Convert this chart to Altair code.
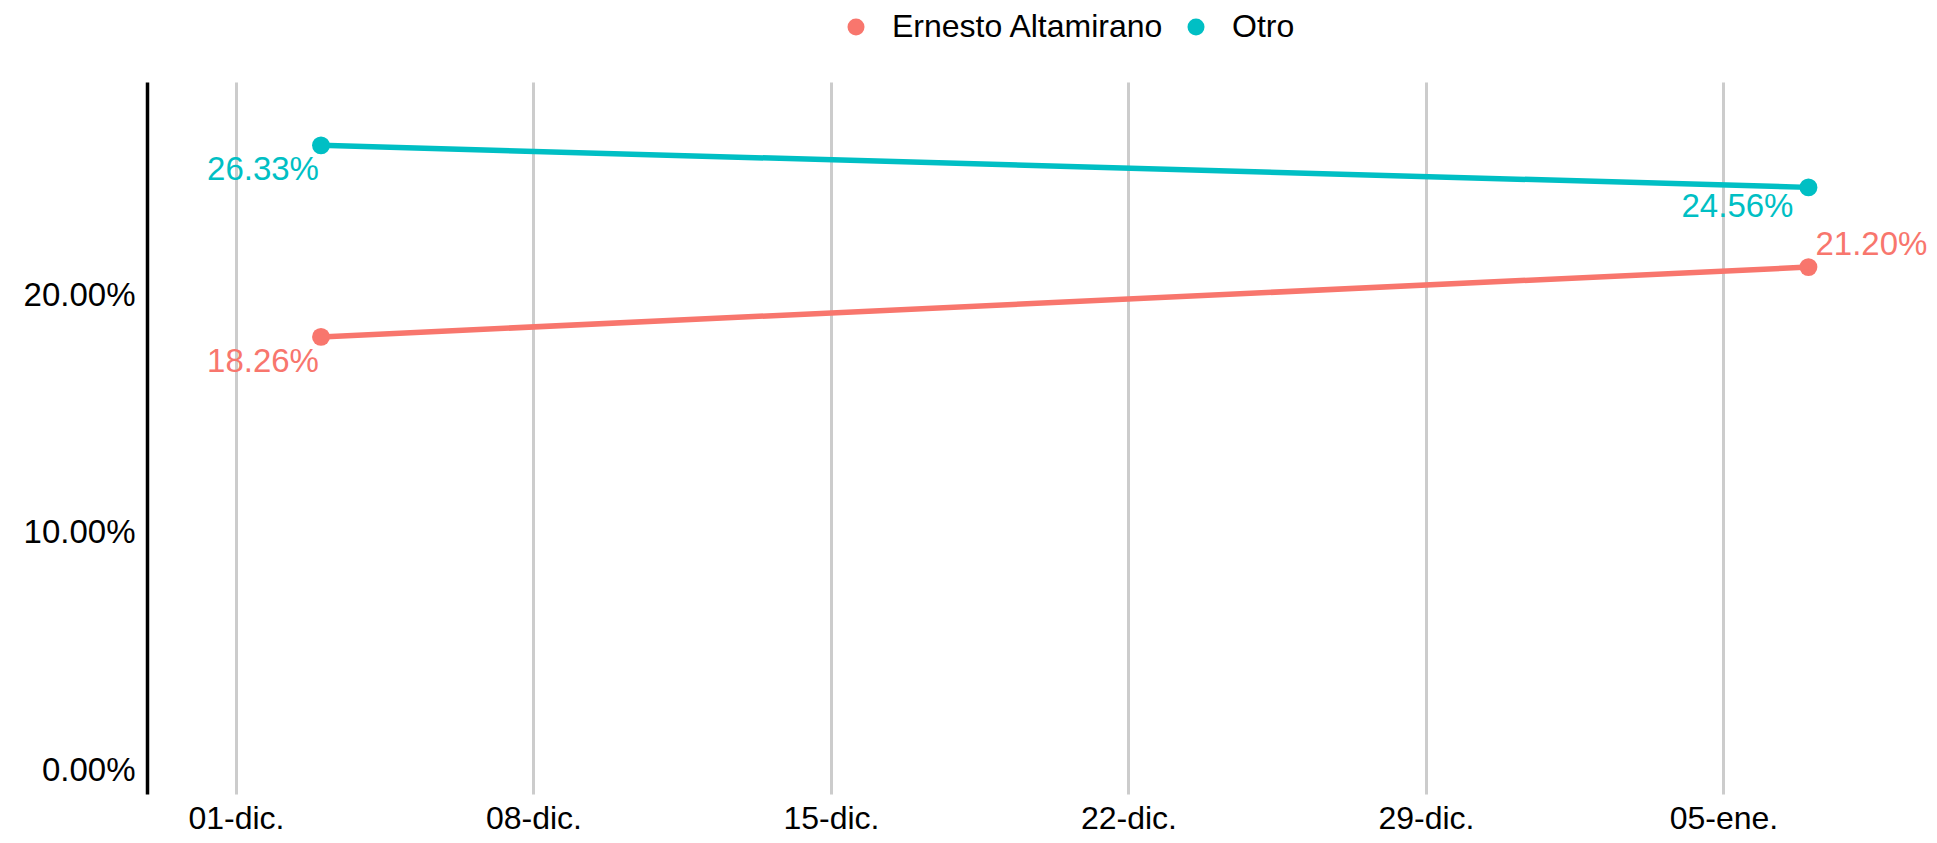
import altair as alt
import pandas as pd

series_names = ["Ernesto Altamirano", "Otro"]
series_colors = ["#F8766D", "#00BFC4"]
dates = ["2023-12-03", "2024-01-07"]
ernesto = [0.1826, 0.2120]
otro = [0.2633, 0.2456]
punto = ["inicio", "fin"]

tick_dates = [(2023, 12, 1), (2023, 12, 8), (2023, 12, 15), (2023, 12, 22), (2023, 12, 29), (2024, 1, 5)]
tick_labels = ["01-dic.", "08-dic.", "15-dic.", "22-dic.", "29-dic.", "05-ene."]
y_ticks = [0.0, 0.1, 0.2]

rows = []
for name, vals in zip(series_names, [ernesto, otro]):
    for d, v, p in zip(dates, vals, punto):
        rows.append({"serie": name, "fecha": d, "valor": v, "punto": p})
df = pd.DataFrame(rows)

FONT = "Liberation Sans"

tick_vals = [alt.DateTime(year=y, month=m, date=d, utc=True) for (y, m, d) in tick_dates]
parts = []
for (y, m, d), lab in zip(tick_dates, tick_labels):
    parts.append(f"(utcyear(datum.value)=={y} && utcmonth(datum.value)=={m-1} && utcdate(datum.value)=={d}) ? '{lab}'")
label_expr = " : ".join(parts) + " : ''"

x_enc = alt.X(
    "fecha:T",
    scale=alt.Scale(
        type="utc",
        domain=[
            alt.DateTime(year=2023, month=11, date=28, hours=21, minutes=45, utc=True),
            alt.DateTime(year=2024, month=1, date=9, hours=15, utc=True),
        ],
        nice=False,
    ),
    axis=alt.Axis(
        title=None,
        values=tick_vals,
        labelExpr=label_expr,
        grid=True,
        gridColor="#CCCCCC",
        gridWidth=3,
        domain=False,
        ticks=False,
        labelFontSize=32,
        labelFont=FONT,
        labelColor="#000000",
        labelBaseline="alphabetic",
        labelPadding=34,
        labelFlush=False,
    ),
)
y_enc = alt.Y(
    "valor:Q",
    scale=alt.Scale(domain=[-0.01, 0.29], nice=False, zero=False),
    axis=alt.Axis(
        title=None,
        values=y_ticks,
        format=".2%",
        grid=False,
        domain=True,
        domainColor="#000000",
        domainWidth=3.5,
        ticks=False,
        labelFontSize=33,
        labelFont=FONT,
        labelColor="#000000",
        labelPadding=12,
    ),
)
color_scale = alt.Scale(domain=series_names, range=series_colors)
legend = alt.Legend(
    title=None,
    orient="none",
    direction="horizontal",
    legendX=693,
    legendY=-71,
    padding=0,
    symbolType="circle",
    symbolSize=290,
    symbolStrokeWidth=0,
    labelFontSize=32,
    labelFont=FONT,
    labelColor="#000000",
    labelOffset=20,
    labelLimit=0,
    columnPadding=15,
)
color_enc = alt.Color("serie:N", scale=color_scale, legend=legend)

base = alt.Chart(df)

points = base.mark_point(filled=True, size=320, opacity=1).encode(
    x=x_enc, y=y_enc, color=color_enc
)
lines = base.mark_line(strokeWidth=5.5).encode(x=x_enc, y=y_enc, color=color_enc)

def label_layer(filt, align, dx, dy):
    return base.transform_filter(filt).mark_text(
        align=align, baseline="alphabetic", dx=dx, dy=dy, fontSize=33, font=FONT
    ).encode(
        x=x_enc,
        y=y_enc,
        text=alt.Text("valor:Q", format=".2%"),
        color=color_enc,
    )

t1 = label_layer("datum.punto == 'inicio'", "right", -2, 35)
t2 = label_layer("datum.punto == 'fin' && datum.serie == 'Otro'", "right", -15, 30)
t3 = label_layer("datum.punto == 'fin' && datum.serie == 'Ernesto Altamirano'", "left", 7, -12)

chart = alt.layer(points, lines, t1, t2, t3).properties(
    width=1773,
    height=712,
    background="#FFFFFF",
    autosize=alt.AutoSizeParams(type="none"),
    padding={"left": 139, "top": 74, "right": 9, "bottom": 41},
).configure_view(stroke=None)

chart.save("out.html", embed_options={"renderer": "svg", "actions": False})
